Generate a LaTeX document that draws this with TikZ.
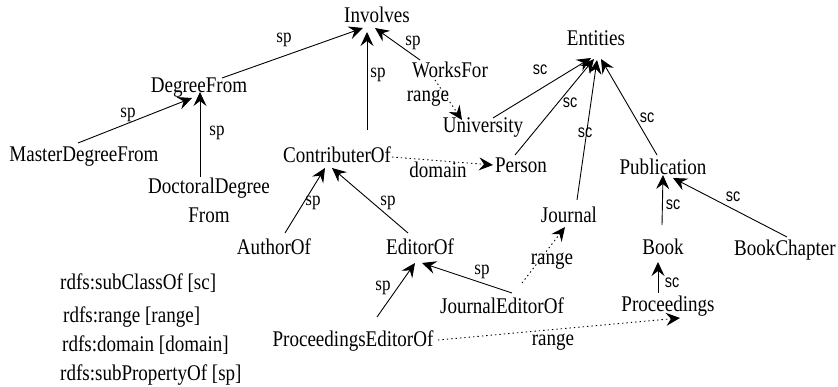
\documentclass[tikz,border=0pt]{standalone}
\usepackage{fontspec}
\setmainfont{Liberation Serif}[FakeStretch=0.85]
\newfontfamily\scfont{Liberation Sans}[FakeStretch=0.8]
\usetikzlibrary{arrows.meta}
\begin{document}
\begin{tikzpicture}[x=1pt,y=-1pt,
  lbl/.style={inner sep=0pt,anchor=base,font=\fontsize{22.4}{27}\selectfont},
  splbl/.style={inner sep=0pt,font=\fontsize{20}{24}\selectfont},
  sclbl/.style={inner sep=0pt,font=\scfont\fontsize{18}{22}\selectfont},
  leg/.style={inner sep=0pt,anchor=base west,font=\fontsize{22.4}{27}\selectfont},
  arr/.style={line width=0.9pt,-{Stealth[length=14pt,width=13pt,inset=5pt]}},
  darr/.style={arr,dash pattern=on 1.4pt off 3pt}]
\useasboundingbox (0,0) rectangle (838,387);
% nodes
\node[lbl] (inv) at (377,23) {Involves};
\node[lbl] (df) at (199,93) {DegreeFrom};
\node[lbl] (mdf) at (84,162) {MasterDegreeFrom};
\node[inner sep=0pt,anchor=north,align=center,font=\fontsize{22.4}{27}\selectfont] (dd) at (209,178) {DoctoralDegree\\[2pt]From};
\node[lbl] (co) at (337,163) {ContributerOf};
\node[lbl] (wf) at (450,78) {WorksFor};
\node[lbl] (uni) at (483,133) {University};
\node[lbl] (ent) at (596,46) {Entities};
\node[lbl] (per) at (521,173) {Person};
\node[lbl] (pub) at (663,175) {Publication};
\node[lbl] (jou) at (569,223) {Journal};
\node[lbl] (book) at (663,255) {Book};
\node[lbl] (bc) at (785,256) {BookChapter};
\node[lbl] (ao) at (274,255) {AuthorOf};
\node[lbl] (eo) at (420,255) {EditorOf};
\node[lbl] (jeo) at (502,314) {JournalEditorOf};
\node[lbl] (proc) at (668,312) {Proceedings};
\node[lbl] (peo) at (353,346) {ProceedingsEditorOf};
% legend
\node[leg] (l1) at (60,290) {rdfs:subClassOf [sc]};
\node[leg] (l2) at (63,323) {rdfs:range [range]};
\node[leg] (l3) at (62,352) {rdfs:domain [domain]};
\node[leg] (l4) at (60,380) {rdfs:subPropertyOf [sp]};
% edges
\draw[arr] ([shift={(23,-15)}]df.base) -- ([shift={(-14,5)}]inv.base);
\draw[arr] ([shift={(-6,-19)}]mdf.base) -- ([shift={(-7,5)}]df.base);
\draw[arr] ([shift={(-9,-1)}]dd.north) -- ([shift={(1,-1)}]df.base);
\draw[arr] ([shift={(30,-33)}]co.base) -- ([shift={(-10,9)}]inv.base);
\draw[arr] ([shift={(-30,-18)}]wf.base) -- ([shift={(-2,5)}]inv.base);
\draw[darr] ([shift={(-15,2)}]wf.base) -- ([shift={(-21,-13)}]uni.base);
\draw[arr] ([shift={(10,-15)}]uni.base) -- ([shift={(-5,12)}]ent.base);
\draw[arr] ([shift={(-6,-18)}]per.base) -- ([shift={(-2,13)}]ent.base);
\draw[arr] ([shift={(8,-23)}]jou.base) -- ([shift={(1,14)}]ent.base);
\draw[arr] ([shift={(-6,-20)}]pub.base) -- ([shift={(5,13)}]ent.base);
\draw[darr] ([shift={(55,-6)}]co.base) -- ([shift={(-28,-8)}]per.base);
\draw[arr] ([shift={(-1,-30)}]book.base) -- ([shift={(0,0)}]pub.base);
\draw[arr] ([shift={(2,-19)}]bc.base) -- ([shift={(10,3)}]pub.base);
\draw[arr] ([shift={(11,-22)}]ao.base) -- ([shift={(-12,5)}]co.base);
\draw[arr] ([shift={(-12,-22)}]eo.base) -- ([shift={(-5,5)}]co.base);
\draw[arr] ([shift={(24,-29)}]peo.base) -- ([shift={(-5,8)}]eo.base);
\draw[arr] ([shift={(10,-21)}]jeo.base) -- ([shift={(2,8)}]eo.base);
\draw[darr] ([shift={(20,-31)}]jeo.base) -- ([shift={(-4,4)}]jou.base);
\draw[darr] ([shift={(85,-6)}]peo.base) -- ([shift={(12,6)}]proc.base);
\draw[arr] ([shift={(-10,-19)}]proc.base) -- ([shift={(-5,7)}]book.base);
% edge labels
\node[splbl] (s1) at (284,40) {sp};
\node[splbl] (s2) at (128,115) {sp};
\node[splbl] (s3) at (217,133) {sp};
\node[splbl] (s4) at (378,75) {sp};
\node[splbl] (s5) at (413,43) {sp};
\node[splbl] (s6) at (313,203) {sp};
\node[splbl] (s7) at (388,203) {sp};
\node[splbl] (s8) at (383,288) {sp};
\node[splbl] (s9) at (482,272) {sp};
\node[sclbl] (c1) at (540,70) {sc};
\node[sclbl] (c2) at (570,103) {sc};
\node[sclbl] (c3) at (585,133) {sc};
\node[sclbl] (c4) at (647,118) {sc};
\node[sclbl] (c5) at (673,205) {sc};
\node[sclbl] (c6) at (733,197) {sc};
\node[sclbl] (c7) at (672,283) {sc};
\node[lbl] (r1) at (428,102) {range};
\node[lbl] (dm) at (438,178) {domain};
\node[lbl] (r2) at (552,265) {range};
\node[lbl] (r3) at (553,345) {range};
\end{tikzpicture}
\end{document}
